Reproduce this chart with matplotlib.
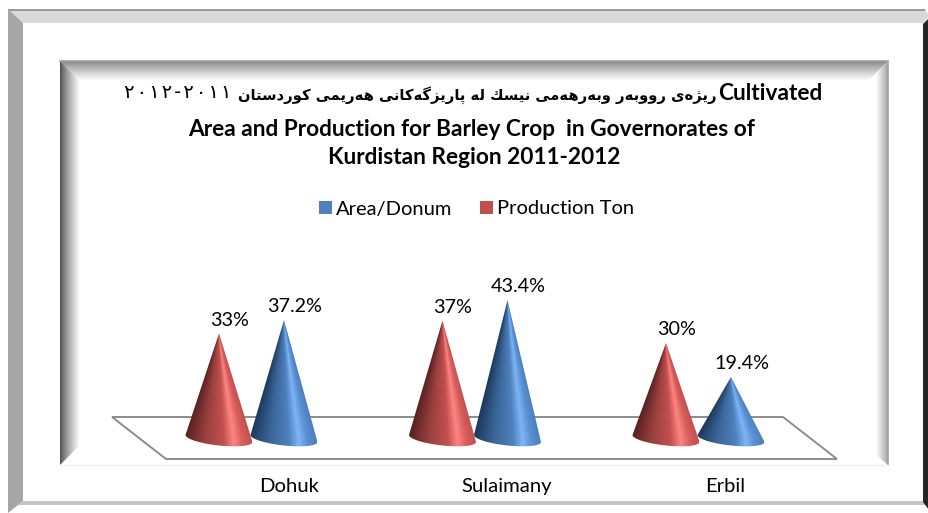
import numpy as np
import matplotlib
matplotlib.use("Agg")
import matplotlib.pyplot as plt
from matplotlib.colors import LinearSegmentedColormap
from matplotlib.patches import Patch, Polygon

categories = ["Dohuk", "Sulaimany", "Erbil"]
production_ton = [33, 37, 30]
area_donum = [37.2, 43.4, 19.4]
series_names = ["Area/Donum", "Production Ton"]

title_kurdish = "ریژەی رووبەر وبەرهەمی نیسك له پارێزگەکانی هەرێمی کوردستان"
title_digits = "\u200a".join("٢٠١٢-٢٠١١")
title_latin_1 = "Cultivated"
title_latin_2 = "Area and Production for Barley Crop  in Governorates of"
title_latin_3 = "Kurdistan Region 2011-2012"

W, H = 929, 513
LATIN = "Lato"
ARABIC = "DejaVu Sans"

# matplotlib lays glyphs out left to right with no shaping: pick joined forms
DUAL = {"ب": 0xFE8F, "ت": 0xFE95, "س": 0xFEB1, "ك": 0xFED9, "ل": 0xFEDD, "م": 0xFEE1,
        "ن": 0xFEE5, "ه": 0xFEE9, "پ": 0xFB56, "ک": 0xFB8E, "گ": 0xFB92, "ی": 0xFBFC,
        "ێ": 0xFBFC}
RIGHT = {"ا": 0xFE8D, "د": 0xFEA9, "ر": 0xFEAD, "ز": 0xFEAF, "و": 0xFEED, "ژ": 0xFB8A,
         "ە": 0xFEE9}


def visual_arabic(text):
    out = []
    for i, ch in enumerate(text):
        before = text[i - 1] if i else " "
        after = text[i + 1] if i + 1 < len(text) else " "
        joins_prev = before in DUAL
        joins_next = after in DUAL or after in RIGHT
        if ch in DUAL:
            form = (1 if not joins_next else 3) if joins_prev else (2 if joins_next else 0)
            out.append(chr(DUAL[ch] + form))
        elif ch in RIGHT:
            out.append(chr(RIGHT[ch] + (1 if joins_prev else 0)))
        else:
            out.append(ch)
    return "".join(reversed(out))


fig = plt.figure(figsize=(W / 100, H / 100), dpi=100, facecolor="white")

# ---------- decorative frame, in pixel coordinates ----------
bg = fig.add_axes([0, 0, 1, 1], zorder=0)
bg.set_xlim(0, W)
bg.set_ylim(H, 0)
bg.axis("off")


def fill(points, color):
    bg.add_patch(Polygon(points, closed=True, fc=color, ec="none"))


def gradient(points, extent, start, end, horizontal, power=1.0):
    cmap = LinearSegmentedColormap.from_list("g", [start, end])
    ramp = np.linspace(0, 1, 64) ** power
    data = ramp[None, :] if horizontal else ramp[:, None]
    im = bg.imshow(data, cmap=cmap, vmin=0, vmax=1, extent=extent, aspect="auto",
                   interpolation="bilinear", origin="upper")
    im.set_clip_path(Polygon(points, closed=True, transform=bg.transData))


fill([(8, 9), (925, 9), (929, 16), (923, 23), (23, 23)], "#d9d9d9")
fill([(8, 9), (925, 9), (925, 10.5), (8, 10.5)], "#9a9a9a")
fill([(8, 9), (23, 23), (23, 501), (8, 513)], "#a6a6a6")
fill([(23, 501), (923, 501), (926, 505), (18, 505)], "#c4c4c4")
fill([(923, 24), (929, 18), (929, 510), (923, 502)], "#262626")

gradient([(60, 61), (888, 61), (868, 81), (80, 81)], (60, 888, 81, 61), "#808080", "#ffffff", False, 0.8)
gradient([(60, 61), (80, 81), (80, 445), (60, 465)], (60, 80, 465, 61), "#4d4d4d", "#ffffff", True, 0.8)
gradient([(888, 61), (868, 81), (876, 81), (876, 455), (888, 465)], (876, 888, 465, 61), "#ffffff", "#a6a6a6", True)
bg.plot([60, 888, 888], [60.5, 60.5, 465], color="#a0a0a0", lw=1.2, solid_joinstyle="miter")
bg.plot([60, 888], [465, 465], color="#eeeeee", lw=1)

# chart floor
bg.add_patch(Polygon([(112, 417), (783, 417), (837, 459), (166, 459)], closed=True,
                     fc="none", ec="#8c8c8c", lw=1.4))

# ---------- title ----------
TC = "black"
bg.text(822, 94, title_latin_1, family=LATIN, weight="bold", fontsize=16.3, color=TC,
        ha="right", va="center")
bg.text(717, 95, visual_arabic(title_kurdish), family=ARABIC, weight="bold", fontsize=10.6,
        color=TC, ha="right", va="center")
bg.text(231, 92, title_digits, family=ARABIC, fontsize=14, color=TC, ha="right", va="center")
bg.text(472, 129, title_latin_2, family=LATIN, weight="bold", fontsize=16.3, color=TC,
        ha="center", va="center")
bg.text(474, 158, title_latin_3, family=LATIN, weight="bold", fontsize=16.3, color=TC,
        ha="center", va="center")

# ---------- data axes: 0 % sits at pixel row 439, 3.2 px per % ----------
PX_PER_PCT = 3.2
PX_PER_CAT = 223.5
left = 251.5 - PX_PER_CAT / 2
y_low, y_high = -10, 50
bottom_px = 439 - y_low * PX_PER_PCT
height_px = (y_high - y_low) * PX_PER_PCT
ax = fig.add_axes([left / W, (H - bottom_px) / H, 3 * PX_PER_CAT / W, height_px / H], zorder=1)
ax.patch.set_alpha(0)
ax.set_xlim(-0.5, 2.5)
ax.set_ylim(y_low, y_high)
for s in ax.spines.values():
    s.set_visible(False)
ax.set_yticks([])

OFFSET = 32.5 / PX_PER_CAT
HALF = 33.5 / PX_PER_CAT
BASE_B = 7 / PX_PER_PCT
BASE_K = 3.5 / PX_PER_PCT
BASE_Y = 0.16

red_cmap = LinearSegmentedColormap.from_list("r", [(0, "#5a2221"), (0.3, "#9a403e"), (0.58, "#c2514f"),
                                                   (0.73, "#ff8583"), (0.86, "#d65e5b"), (1, "#c0504d")])
blue_cmap = LinearSegmentedColormap.from_list("b", [(0, "#1d3a5e"), (0.3, "#3a6699"), (0.58, "#4f81bd"),
                                                    (0.73, "#7db5f6"), (0.86, "#5a90d2"), (1, "#4a7ebb")])


def cone(xc, value, cmap, z):
    t = np.linspace(np.pi, 0, 60)           # left -> bottom -> right
    bx = xc + HALF * np.cos(t)
    by = BASE_Y - BASE_B * np.sin(t) - BASE_K * np.cos(t)
    outline = np.column_stack([np.r_[xc, bx], np.r_[value, by]])
    X, Y = np.meshgrid(np.linspace(xc - HALF, xc + HALF, 160),
                       np.linspace(value, y_low, 300))
    width = HALF * np.clip((value - Y) / (value - BASE_Y), 1e-3, 1)
    u = np.clip((X - xc) / width, -1, 1)
    im = ax.imshow((u + 1) / 2, cmap=cmap, vmin=0, vmax=1, origin="upper", aspect="auto",
                   extent=(xc - HALF, xc + HALF, y_low, value), interpolation="bilinear", zorder=z)
    im.set_clip_path(Polygon(outline, closed=True, transform=ax.transData))


for i in range(len(categories)):
    cone(i + OFFSET, area_donum[i], blue_cmap, 2)
    cone(i - OFFSET, production_ton[i], red_cmap, 3)
    for xc, v in ((i - OFFSET, production_ton[i]), (i + OFFSET, area_donum[i])):
        ax.annotate(f"{v:g}%", (xc, v), xytext=(7.5, 9.5), textcoords="offset points",
                    ha="center", va="center", family=LATIN, fontsize=14.2, color="black", zorder=5)
ax.set_xlim(-0.5, 2.5)
ax.set_ylim(y_low, y_high)

label_shift = [0.166, 0.143, 0.121]
ax.set_xticks([i + s for i, s in enumerate(label_shift)])
ax.set_xticklabels(categories, family=LATIN, fontsize=14.6, color="black")
ax.tick_params(axis="x", length=0, pad=5)

handles = [Patch(fc="#4f81bd", ec="none"), Patch(fc="#c0504d", ec="none")]
fig.legend(handles, series_names, loc="center", bbox_to_anchor=(476.5 / W, 1 - 209 / H),
           ncol=2, frameon=False, prop={"family": LATIN, "size": 14.5},
           handlelength=0.65, handleheight=0.65, handletextpad=0.22, columnspacing=1.35,
           borderpad=0, borderaxespad=0)

fig.savefig("out.png", dpi=100, facecolor="white")
